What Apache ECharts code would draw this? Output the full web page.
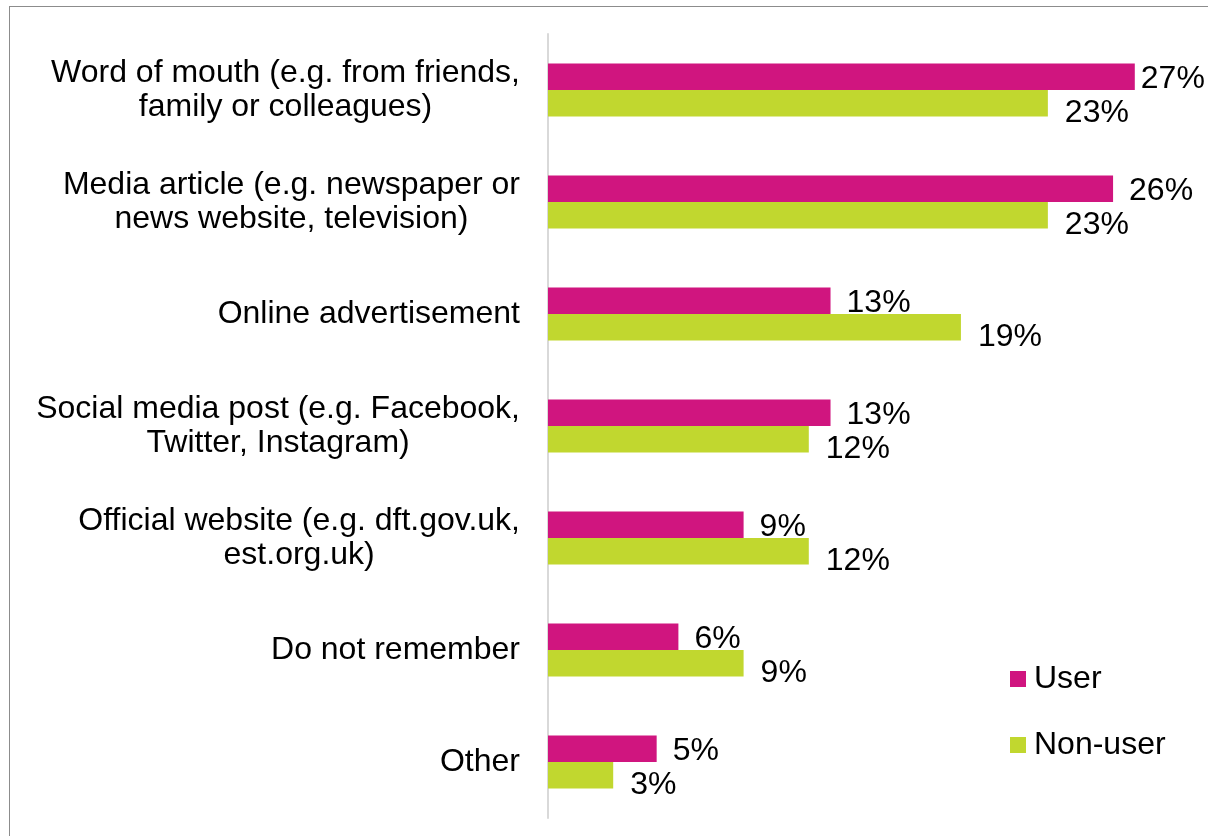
<!DOCTYPE html>
<html>
<head>
<meta charset="utf-8">
<script src="https://cdn.jsdelivr.net/npm/echarts@6/dist/echarts.min.js"></script>
<style>
  html, body { margin: 0; padding: 0; background: #fff; overflow: hidden; }
  #chart { width: 1208px; height: 836px; position: absolute; left: 0; top: 0; }
  #frame { position: absolute; left: 9px; top: 6px; width: 1220px; height: 850px;
           border-left: 1.5px solid #8c8c8c; border-top: 1.5px solid #8c8c8c; pointer-events: none; }
</style>
</head>
<body>
<div id="chart"></div>
<div id="frame"></div>
<script>
// Where people heard about it, by respondent group (percent)
const categories = [
  'Word of mouth (e.g. from friends,\nfamily or colleagues)',
  'Media article (e.g. newspaper or\nnews website, television)',
  'Online advertisement',
  'Social media post (e.g. Facebook,\nTwitter, Instagram)',
  'Official website (e.g. dft.gov.uk,\nest.org.uk)',
  'Do not remember',
  'Other'
];
const userValues    = [27, 26, 13, 13, 9, 6, 5];
const nonUserValues = [23, 23, 19, 12, 12, 9, 3];
const seriesNames = ['User', 'Non-user'];

const FONT = '"Liberation Sans", Arial, sans-serif';
const AXIS_MAX = 30;

// each line of a wrapped category label is centred against the others
function centredLines(text) {
  return text.split('\n').map(function (l) { return '{c|' + l + '}'; }).join('\n');
}

// labels of the longest bars sit closer to the bar so they stay inside the frame
function withLabels(values, distance) {
  return values.map(function (v) {
    return v >= 27 ? { value: v, label: { distance: 6 } } : { value: v, label: { distance: distance } };
  });
}

const labelStyle = { show: true, position: 'right', formatter: '{c}%', fontSize: 32, color: '#000', fontFamily: FONT };

const chart = echarts.init(document.getElementById('chart'), null, { renderer: 'canvas' });
chart.setOption({
  animation: false,
  textStyle: { fontFamily: FONT },
  grid: { left: 548, right: 8, top: 34, bottom: 18, containLabel: false },
  legend: {
    orient: 'vertical',
    left: 1010,
    top: 663,
    padding: 0,
    icon: 'rect',
    itemWidth: 16,
    itemHeight: 16,
    itemGap: 34,
    textStyle: { fontSize: 32, color: '#000', fontFamily: FONT, padding: [0, 0, 0, 3] },
    data: seriesNames
  },
  xAxis: {
    type: 'value',
    min: 0,
    max: AXIS_MAX,
    show: false,
    splitLine: { show: false }
  },
  yAxis: {
    type: 'category',
    inverse: true,
    data: categories,
    axisLine: { show: true, lineStyle: { color: '#d9d9d9', width: 2 } },
    axisTick: { show: false },
    axisLabel: {
      margin: 28,
      align: 'right',
      color: '#000',
      fontSize: 32,
      lineHeight: 34,
      fontFamily: FONT,
      formatter: centredLines,
      rich: { c: { align: 'center', fontSize: 32, lineHeight: 34, fontFamily: FONT, color: '#000' } }
    }
  },
  series: [
    {
      name: seriesNames[0],
      type: 'bar',
      data: withLabels(userValues, 16),
      barWidth: 26.5,
      barGap: '0%',
      itemStyle: { color: '#d0157f' },
      label: Object.assign({}, labelStyle, { offset: [0, 2] })
    },
    {
      name: seriesNames[1],
      type: 'bar',
      data: withLabels(nonUserValues, 17),
      barWidth: 26.5,
      barGap: '0%',
      itemStyle: { color: '#c1d72f' },
      label: Object.assign({}, labelStyle, { offset: [0, 10] })
    }
  ]
});
</script>
</body>
</html>
